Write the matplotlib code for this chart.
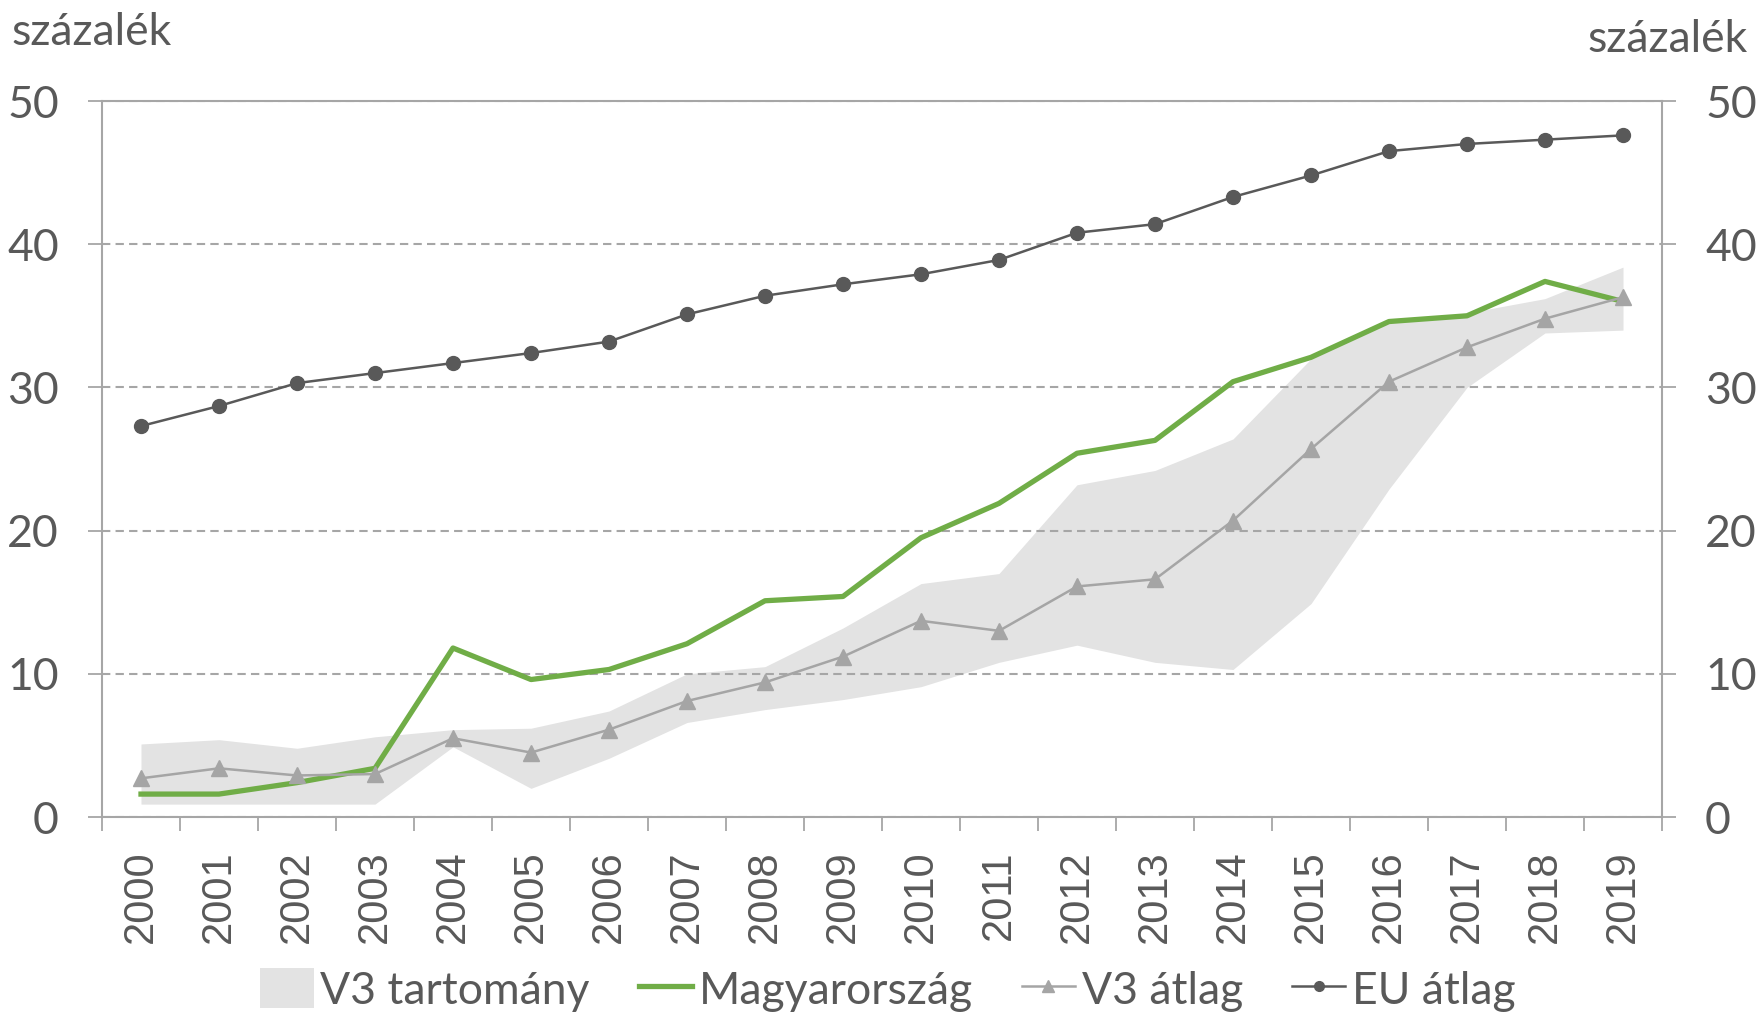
import matplotlib
matplotlib.use("Agg")
import matplotlib.pyplot as plt
from matplotlib.patches import Patch
from matplotlib.lines import Line2D
import numpy as np

years = [str(y) for y in range(2000, 2020)]
eu_avg = [27.3, 28.7, 30.3, 31.0, 31.7, 32.4, 33.2, 35.1, 36.4, 37.2,
          37.9, 38.9, 40.8, 41.4, 43.3, 44.8, 46.5, 47.0, 47.3, 47.6]
hungary = [1.6, 1.6, 2.4, 3.4, 11.8, 9.6, 10.3, 12.1, 15.1, 15.4,
           19.5, 21.9, 25.4, 26.3, 30.4, 32.1, 34.6, 35.0, 37.4, 36.0]
v3_avg = [2.7, 3.4, 2.9, 3.0, 5.5, 4.5, 6.1, 8.1, 9.4, 11.2,
          13.7, 13.0, 16.1, 16.6, 20.7, 25.7, 30.4, 32.8, 34.8, 36.3]
v3_low = [0.9, 0.9, 0.9, 0.9, 4.9, 2.0, 4.1, 6.6, 7.5, 8.2,
          9.1, 10.8, 12.0, 10.8, 10.3, 14.9, 22.9, 30.0, 33.8, 34.0]
v3_high = [5.1, 5.4, 4.8, 5.6, 6.1, 6.2, 7.4, 10.0, 10.5, 13.2,
           16.3, 17.0, 23.2, 24.2, 26.4, 32.0, 34.6, 35.2, 36.2, 38.4]
yticks = [0, 10, 20, 30, 40, 50]
unit = "százalék"
labels = ["V3 tartomány", "Magyarország", "V3 átlag", "EU átlag"]

TXT = "#595959"
AX = "#A6A6A6"
GREEN = "#70AD47"
V3C = "#A5A5A5"
EUC = "#595959"
BAND = "#E3E3E3"
FONT = ["Lato", "DejaVu Sans"]
YEARFONT = ["Liberation Sans", "DejaVu Sans"]
FS = 32

fig = plt.figure(figsize=(17.59, 10.15), dpi=100)
ax = fig.add_axes([102 / 1759, 1 - 817 / 1015, (1662 - 102) / 1759, (817 - 101) / 1015])
x = np.arange(len(years))

ax.fill_between(x, v3_low, v3_high, color=BAND, lw=0, zorder=0.2)
ax.plot(x, hungary, color=GREEN, lw=3.8, zorder=3)
ax.plot(x, v3_avg, color=V3C, lw=1.8, marker="^", ms=11, zorder=4)
ax.plot(x, eu_avg, color=EUC, lw=1.8, marker="o", ms=10, zorder=5)

ax.set_xlim(-0.5, len(years) - 0.5)
ax.set_ylim(0, 50)
ax.set_axisbelow(True)

# x ticks at category boundaries, labels at centers
ax.set_xticks(np.arange(-0.5, len(years), 1))
ax.set_xticklabels([])
ax.set_xticks(x, minor=True)
ax.set_xticklabels(years, minor=True, rotation=90, fontsize=30,
                   color=TXT, family=YEARFONT, va="top", ha="center")
ax.tick_params(axis="x", which="major", direction="out", length=10, width=1.3, color=AX)
ax.tick_params(axis="x", which="minor", length=0, pad=24)

ax.set_yticks(yticks)
ax.set_yticklabels([str(v) for v in yticks])
ax.tick_params(axis="y", which="major", direction="out", length=10, width=1.3, color=AX,
               labelsize=FS, labelcolor=TXT, pad=21, right=True, labelright=True)
for lab in ax.get_yticklabels():
    lab.set_family(FONT)

ax.yaxis.grid(True, color=AX, lw=1.5, ls=(0, (4, 2.5)))
for s in ax.spines.values():
    s.set_color(AX)
    s.set_linewidth(1.5)

fig.text(11 / 1759, 1 - 45 / 1015, unit, fontsize=FS, color=TXT, family=FONT,
         ha="left", va="baseline")
fig.text(1748 / 1759, 1 - 52 / 1015, unit, fontsize=FS, color=TXT, family=FONT,
         ha="right", va="baseline")

handles = [
    Patch(facecolor=BAND, edgecolor="none"),
    Line2D([], [], color=GREEN, lw=3.8),
    Line2D([], [], color=V3C, lw=1.8, marker="^", ms=8),
    Line2D([], [], color=EUC, lw=1.8, marker="o", ms=7),
]
leg = fig.legend(handles, labels, loc="center", bbox_to_anchor=(888 / 1759, 1 - 990 / 1015),
                 ncol=4, frameon=False, prop={"family": FONT, "size": FS},
                 handlelength=1.2, handleheight=1.0, handletextpad=0.15,
                 columnspacing=1.1, borderaxespad=0)
for t in leg.get_texts():
    t.set_color(TXT)

fig.savefig("out.png", dpi=100)
